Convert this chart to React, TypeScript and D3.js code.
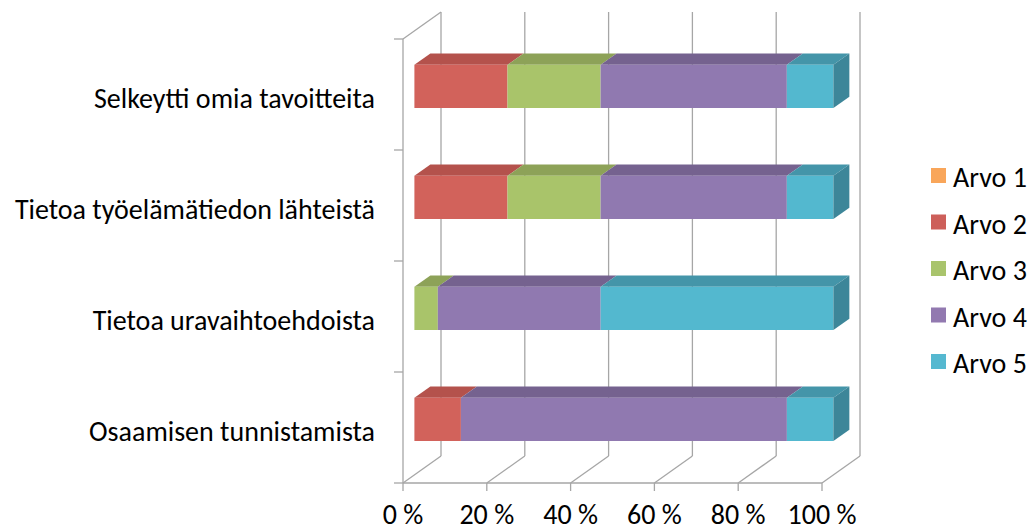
import React from "react";
import * as d3 from "d3";

const categories = [
  "Selkeytti omia tavoitteita",
  "Tietoa työelämätiedon lähteistä",
  "Tietoa uravaihtoehdoista",
  "Osaamisen tunnistamista",
];
const seriesNames = ["Arvo 1", "Arvo 2", "Arvo 3", "Arvo 4", "Arvo 5"];
const arvo1 = [0, 0, 0, 0];
const arvo2 = [22.2, 22.2, 0, 11.1];
const arvo3 = [22.2, 22.2, 5.6, 0];
const arvo4 = [44.4, 44.4, 38.9, 77.8];
const arvo5 = [11.1, 11.1, 55.6, 11.1];
const xTicks = [0, 0.2, 0.4, 0.6, 0.8, 1];

const frontColors = ["#F9A65A", "#D2625B", "#A9C46A", "#9079B0", "#53B8CF"];
const topColors = ["#D98A45", "#B4524C", "#8DA258", "#75628F", "#4495A9"];
const sideColors = ["#C47A3C", "#9E4843", "#7D904E", "#66557D", "#3D8699"];
const legendColors = ["#F9A65A", "#CD5F5A", "#A9C46C", "#9279B0", "#55B8D0"];

const W = 1028;
const H = 531;
const FONT = "Calibri, Carlito, Lato, sans-serif";
const FS = 28;
const DX = 38;
const DY = -27;
const D_FRONT = 0.3;
const D_BACK = 0.72;
const GRID = "#A6A6A6";

export default function App() {
  const x = d3.scaleLinear().domain([0, 1]).range([403, 822]);
  const y = d3
    .scaleBand<string>()
    .domain(categories)
    .range([39, 483])
    .paddingInner(0.61)
    .paddingOuter(0.305);
  const yCat = d3.scaleBand<string>().domain(categories).range([39, 483]);

  const rows = categories.map((c, i) => ({
    cat: c,
    "Arvo 1": arvo1[i],
    "Arvo 2": arvo2[i],
    "Arvo 3": arvo3[i],
    "Arvo 4": arvo4[i],
    "Arvo 5": arvo5[i],
  }));
  const stacked = d3
    .stack<any>()
    .keys(seriesNames)
    .offset(d3.stackOffsetExpand)(rows);

  const P = (px: number, py: number, d: number): [number, number] => [
    px + DX * d,
    py + DY * d,
  ];
  const poly = (pts: [number, number][]) =>
    pts.map((p) => p[0].toFixed(2) + "," + p[1].toFixed(2)).join(" ");

  const yTop = 39;
  const yBot = 483;

  const wallLines: JSX.Element[] = [];
  wallLines.push(
    <line key="lf" x1={x(0)} y1={yTop} x2={x(0)} y2={yBot} />,
    <line key="lt" x1={x(0)} y1={yTop} x2={P(x(0), yTop, 1)[0]} y2={P(x(0), yTop, 1)[1]} />
  );
  xTicks.forEach((t, i) => {
    const b0 = P(x(t), yTop, 1);
    const b1 = P(x(t), yBot, 1);
    wallLines.push(
      <line key={"g" + i} x1={b0[0]} y1={b0[1]} x2={b1[0]} y2={b1[1]} />,
      <line key={"f" + i} x1={x(t)} y1={yBot} x2={b1[0]} y2={b1[1]} />,
      <line key={"t" + i} x1={x(t)} y1={yBot} x2={x(t)} y2={yBot + 8} />
    );
  });
  wallLines.push(<line key="fb" x1={x(0)} y1={yBot} x2={x(1)} y2={yBot} />);
  const catEdges = [...categories.map((c) => yCat(c)!), yBot];
  catEdges.forEach((e, i) =>
    wallLines.push(<line key={"c" + i} x1={x(0) - 9} y1={e} x2={x(0)} y2={e} />)
  );

  const bars: JSX.Element[] = [];
  categories.forEach((c, ci) => {
    const y0 = y(c)!;
    const y1 = y0 + y.bandwidth();
    let lastIdx = -1;
    stacked.forEach((s, si) => {
      const [a, b] = s[ci];
      if (b - a <= 0) return;
      lastIdx = si;
      const xa = x(a);
      const xb = x(b);
      bars.push(
        <polygon
          key={`top-${ci}-${si}`}
          points={poly([P(xa, y0, D_FRONT), P(xb, y0, D_FRONT), P(xb, y0, D_BACK), P(xa, y0, D_BACK)])}
          fill={topColors[si]}
        />,
        <polygon
          key={`front-${ci}-${si}`}
          points={poly([P(xa, y0, D_FRONT), P(xb, y0, D_FRONT), P(xb, y1, D_FRONT), P(xa, y1, D_FRONT)])}
          fill={frontColors[si]}
        />
      );
    });
    if (lastIdx >= 0) {
      const xb = x(stacked[lastIdx][ci][1]);
      bars.push(
        <polygon
          key={`side-${ci}`}
          points={poly([P(xb, y0, D_FRONT), P(xb, y0, D_BACK), P(xb, y1, D_BACK), P(xb, y1, D_FRONT)])}
          fill={sideColors[lastIdx]}
        />
      );
    }
  });

  return (
    <svg
      width={W}
      height={H}
      style={{ position: "absolute", left: 0, top: 0, background: "#fff" }}
      fontFamily={FONT}
    >
      <g stroke={GRID} strokeWidth={1.3} fill="none">
        {wallLines}
      </g>
      <g>{bars}</g>
      <g fontSize={FS} fill="#000" textAnchor="end">
        {categories.map((c) => (
          <text key={c} x={375} y={yCat(c)! + yCat.bandwidth() / 2 + 13}>
            {c}
          </text>
        ))}
      </g>
      <g fontSize={FS} fill="#000" textAnchor="middle">
        {xTicks.map((t) => (
          <text key={t} x={x(t)} y={524}>
            {d3.format(".0f")(t * 100) + "\u00a0%"}
          </text>
        ))}
      </g>
      <g fontSize={FS} fill="#000">
        {seriesNames.map((n, i) => {
          const cy = 177 + 46.5 * i;
          return (
            <g key={n}>
              <rect x={931} y={cy - 9} width={15} height={15} fill={legendColors[i]} />
              <text x={953} y={cy + 10}>
                {n}
              </text>
            </g>
          );
        })}
      </g>
    </svg>
  );
}
